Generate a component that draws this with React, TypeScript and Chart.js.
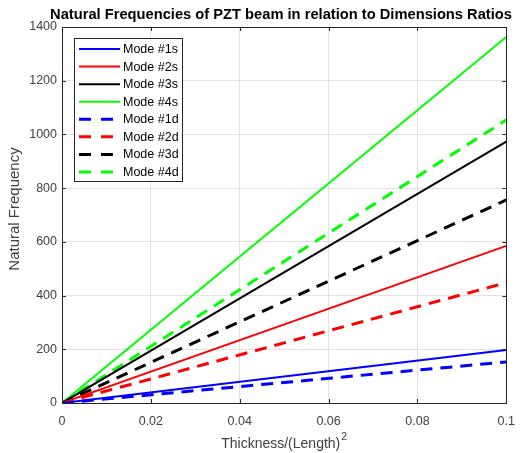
import React, { useEffect, useRef } from "react";
import { Chart, registerables } from "chart.js";

Chart.register(...registerables);

const thicknessRatio = [0, 0.1];
const mode1s = [0, 197];
const mode2s = [0, 585];
const mode3s = [0, 973];
const mode4s = [0, 1363];
const mode1d = [0, 153];
const mode2d = [0, 448];
const mode3d = [0, 756];
const mode4d = [0, 1054];

const seriesLabels = ["Mode #1s", "Mode #2s", "Mode #3s", "Mode #4s", "Mode #1d", "Mode #2d", "Mode #3d", "Mode #4d"];
const seriesValues = [mode1s, mode2s, mode3s, mode4s, mode1d, mode2d, mode3d, mode4d];
const seriesColors = ["#0000ff", "#ff0000", "#000000", "#00ff00", "#0000ff", "#ff0000", "#000000", "#00ff00"];
const seriesDashed = [false, false, false, false, true, true, true, true];

const titleText = "Natural Frequencies of PZT beam in relation to Dimensions Ratios";
const xTitleText = "Thickness/(Length)";
const yTitleText = "Natural Frequency";

const FONT = '"Liberation Sans", Arial, Helvetica, sans-serif';
const AXIS_COLOR = "#262626";
const TEXT_COLOR = "#404040";

export default function App() {
  const ref = useRef<HTMLCanvasElement | null>(null);

  useEffect(() => {
    if (!ref.current) return;
    const decorPlugin = {
      id: "decor",
      afterDatasetsDraw(chart: any) {
        const ctx = chart.ctx;
        const a = chart.chartArea;
        const xs = chart.scales.x;
        const ys = chart.scales.y;
        ctx.save();
        // axes box
        ctx.strokeStyle = AXIS_COLOR;
        ctx.lineWidth = 1;
        ctx.strokeRect(Math.round(a.left) + 0.5, Math.round(a.top) + 0.5, Math.round(a.right - a.left), Math.round(a.bottom - a.top));
        // inward ticks
        const tl = 4;
        ctx.beginPath();
        xs.ticks.forEach((t: any) => {
          const px = Math.round(xs.getPixelForValue(t.value)) + 0.5;
          ctx.moveTo(px, a.bottom);
          ctx.lineTo(px, a.bottom - tl);
          ctx.moveTo(px, a.top);
          ctx.lineTo(px, a.top + tl);
        });
        ys.ticks.forEach((t: any) => {
          const py = Math.round(ys.getPixelForValue(t.value)) + 0.5;
          ctx.moveTo(a.left, py);
          ctx.lineTo(a.left + tl, py);
          ctx.moveTo(a.right, py);
          ctx.lineTo(a.right - tl, py);
        });
        ctx.stroke();

        // legend
        const lx = 74, ly = 38, lw = 108, lh = 143;
        ctx.fillStyle = "#ffffff";
        ctx.fillRect(lx, ly, lw, lh);
        ctx.strokeStyle = AXIS_COLOR;
        ctx.lineWidth = 1;
        ctx.strokeRect(lx + 0.5, ly + 0.5, lw, lh);
        ctx.font = "12.5px " + FONT;
        ctx.textBaseline = "middle";
        ctx.textAlign = "left";
        seriesLabels.forEach((lab, i) => {
          const y = 49 + i * 17.57;
          ctx.beginPath();
          ctx.strokeStyle = seriesColors[i];
          ctx.lineWidth = seriesDashed[i] ? 3 : 2;
          ctx.setLineDash(seriesDashed[i] ? [12, 10] : []);
          ctx.moveTo(79, y);
          ctx.lineTo(120, y);
          ctx.stroke();
          ctx.setLineDash([]);
          ctx.fillStyle = "#000000";
          ctx.fillText(lab, 123, y + 0.5);
        });

        // title
        ctx.fillStyle = "#000000";
        ctx.font = "bold 14.7px " + FONT;
        ctx.textAlign = "center";
        ctx.fillText(titleText, 281, 14.5);

        // x title with superscript
        ctx.fillStyle = TEXT_COLOR;
        ctx.textBaseline = "alphabetic";
        ctx.font = "14px " + FONT;
        const w1 = ctx.measureText(xTitleText).width;
        ctx.font = "10.5px " + FONT;
        const w2 = ctx.measureText("2").width;
        const cx = (a.left + a.right) / 2;
        const start = cx - (w1 + w2 + 1) / 2;
        ctx.textAlign = "left";
        ctx.font = "14px " + FONT;
        ctx.fillText(xTitleText, start, 448);
        ctx.font = "10.5px " + FONT;
        ctx.fillText("2", start + w1 + 1, 440);

        // y title
        ctx.save();
        ctx.textBaseline = "middle";
        ctx.translate(14.5, 209);
        ctx.rotate(-Math.PI / 2);
        ctx.textAlign = "center";
        ctx.font = "15px " + FONT;
        ctx.fillText(yTitleText, 0, 0);
        ctx.restore();
        ctx.restore();
      },
    };

    const chart = new Chart(ref.current, {
      type: "line",
      data: {
        datasets: seriesLabels.map((lab, i) => ({
          label: lab,
          data: thicknessRatio.map((x, j) => ({ x, y: seriesValues[i][j] })),
          borderColor: seriesColors[i],
          backgroundColor: seriesColors[i],
          borderWidth: seriesDashed[i] ? 3 : 2,
          borderDash: seriesDashed[i] ? [12, 8] : [],
          pointRadius: 0,
          fill: false,
          tension: 0,
        })),
      },
      options: {
        animation: false,
        responsive: false,
        maintainAspectRatio: false,
        layout: { padding: { top: 27, right: 19, left: 0, bottom: 0 } },
        plugins: {
          legend: { display: false },
          title: { display: false },
          tooltip: { enabled: false },
        },
        scales: {
          x: {
            type: "linear",
            min: 0,
            max: 0.1,
            ticks: {
              stepSize: 0.02,
              padding: 11,
              color: TEXT_COLOR,
              font: { family: FONT, size: 12.5 },
              maxRotation: 0,
              callback: (v: any) => String(Number(Number(v).toFixed(2))),
            },
            grid: { color: "#e2e2e2", drawTicks: false },
            border: { display: false },
            afterFit: (s: any) => { s.height = 50; },
          },
          y: {
            type: "linear",
            min: 0,
            max: 1400,
            ticks: {
              stepSize: 200,
              padding: 5,
              color: TEXT_COLOR,
              font: { family: FONT, size: 12.5 },
              callback: (v: any) => String(Math.round(Number(v))),
            },
            grid: { color: "#e2e2e2", drawTicks: false },
            border: { display: false },
            afterFit: (s: any) => { s.width = 62; },
          },
        },
      },
      plugins: [decorPlugin],
    });
    return () => chart.destroy();
  }, []);

  return (
    <div style={{ position: "absolute", left: 0, top: 0, width: 526, height: 453, background: "#ffffff" }}>
      <canvas ref={ref} width={526} height={453} style={{ width: 526, height: 453, display: "block" }} />
    </div>
  );
}
